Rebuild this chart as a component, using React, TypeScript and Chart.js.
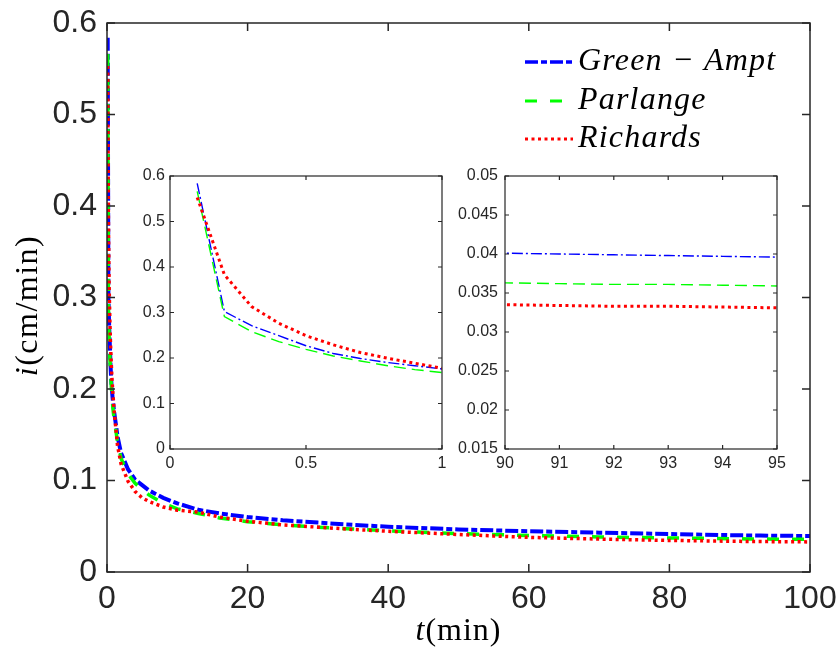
import React, { useEffect, useRef } from "react";
import { Chart, registerables } from "chart.js";

Chart.register(...registerables);

// ---------- data ----------
const TIME = [0.1, 0.2, 0.3, 0.4, 0.5, 0.6, 0.7, 0.8, 0.9, 1, 1.5, 2, 3, 4, 5, 6, 8, 10, 13, 16, 20, 25, 30, 35, 40, 50, 60, 70, 80, 90, 91, 92, 93, 94, 95, 100];
const GREEN_AMPT = [0.584, 0.302, 0.271, 0.249, 0.227, 0.21, 0.199, 0.19, 0.183, 0.176, 0.148, 0.13, 0.112, 0.101, 0.095, 0.089, 0.081, 0.075, 0.068, 0.064, 0.06, 0.0565, 0.054, 0.0515, 0.0495, 0.0465, 0.0445, 0.043, 0.0415, 0.0401, 0.04, 0.0399, 0.0398, 0.0397, 0.0396, 0.0394];
const PARLANGE = [0.566, 0.291, 0.258, 0.236, 0.219, 0.2045, 0.1935, 0.183, 0.1745, 0.168, 0.142, 0.124, 0.107, 0.097, 0.09, 0.084, 0.075, 0.069, 0.064, 0.059, 0.055, 0.0515, 0.049, 0.047, 0.045, 0.042, 0.0398, 0.0383, 0.0372, 0.0363, 0.0362, 0.0361, 0.0361, 0.036, 0.0359, 0.0357];
const RICHARDS = [0.553, 0.383, 0.313, 0.2765, 0.249, 0.229, 0.212, 0.1995, 0.1885, 0.1775, 0.138, 0.118, 0.099, 0.088, 0.081, 0.077, 0.071, 0.0675, 0.0655, 0.06, 0.0555, 0.0515, 0.049, 0.0465, 0.0445, 0.041, 0.0378, 0.036, 0.0345, 0.0335, 0.0334, 0.0333, 0.0333, 0.0332, 0.0331, 0.0329];

const LEGEND_LABELS = ["Green \u2212 Ampt", "Parlange", "Richards"];
const X_TITLE = ["t", "(min)"];
const Y_TITLE = ["i", "(cm/min)"];

const MAIN_X_TICKS = [0, 20, 40, 60, 80, 100];
const MAIN_X_LABELS = ["0", "20", "40", "60", "80", "100"];
const MAIN_Y_TICKS = [0, 0.1, 0.2, 0.3, 0.4, 0.5, 0.6];
const MAIN_Y_LABELS = ["0", "0.1", "0.2", "0.3", "0.4", "0.5", "0.6"];

const ZOOM1_X_TICKS = [0, 0.5, 1];
const ZOOM1_X_LABELS = ["0", "0.5", "1"];
const ZOOM1_Y_TICKS = [0, 0.1, 0.2, 0.3, 0.4, 0.5, 0.6];
const ZOOM1_Y_LABELS = ["0", "0.1", "0.2", "0.3", "0.4", "0.5", "0.6"];

const ZOOM2_X_TICKS = [90, 91, 92, 93, 94, 95];
const ZOOM2_X_LABELS = ["90", "91", "92", "93", "94", "95"];
const ZOOM2_Y_TICKS = [0.015, 0.02, 0.025, 0.03, 0.035, 0.04, 0.045, 0.05];
const ZOOM2_Y_LABELS = ["0.015", "0.02", "0.025", "0.03", "0.035", "0.04", "0.045", "0.05"];

// ---------- styles ----------
const SERIES = [
  { values: GREEN_AMPT, color: "#0000ff", mainDash: [13, 3, 6, 3], mainWidth: 4, insetDash: [11, 3, 2, 3], insetWidth: 1.4, order: 2 },
  { values: PARLANGE, color: "#00ff00", mainDash: [12, 13], mainWidth: 3.5, insetDash: [12, 6], insetWidth: 1.4, order: 1 },
  { values: RICHARDS, color: "#ff0000", mainDash: [3, 3.5], mainWidth: 3.5, insetDash: [3, 3.5], insetWidth: 3, order: 0 },
];

const AXIS_COLOR = "#262626";

function buildDatasets(inset: boolean) {
  return SERIES.map((s, i) => ({
    label: LEGEND_LABELS[i],
    data: TIME.map((t, k) => ({ x: t, y: s.values[k] })),
    borderColor: s.color,
    backgroundColor: s.color,
    borderWidth: inset ? s.insetWidth : s.mainWidth,
    borderDash: inset ? s.insetDash : s.mainDash,
    pointRadius: 0,
    tension: 0,
    fill: false,
    order: s.order,
  }));
}

function axis(vals: number[], labels: string[], min: number, max: number, size: number, padding: number, fit: number, horizontal: boolean) {
  return {
    type: "linear" as const,
    min,
    max,
    grid: { display: false, drawTicks: false },
    border: { display: false },
    afterBuildTicks: (s: any) => {
      s.ticks = vals.map((v) => ({ value: v }));
    },
    afterFit: (s: any) => {
      if (horizontal) s.height = fit;
      else s.width = fit;
      s.paddingLeft = 0;
      s.paddingRight = 0;
      s.paddingTop = 0;
      s.paddingBottom = 0;
    },
    ticks: {
      autoSkip: false,
      maxRotation: 0,
      minRotation: 0,
      padding,
      color: AXIS_COLOR,
      font: { family: "'Liberation Sans', Arial, sans-serif", size },
      callback: (_v: any, i: number) => labels[i],
    },
  };
}

function framePlugin(xVals: number[], yVals: number[], tickLen: number, lw: number, whiteBg: boolean) {
  return {
    id: "frame",
    beforeDraw(chart: any) {
      if (!whiteBg) return;
      const a = chart.chartArea;
      const ctx = chart.ctx;
      ctx.save();
      ctx.fillStyle = "#ffffff";
      ctx.fillRect(a.left, a.top, a.right - a.left, a.bottom - a.top);
      ctx.restore();
    },
    afterDraw(chart: any) {
      const a = chart.chartArea;
      const ctx = chart.ctx;
      const xs = chart.scales.x;
      const ys = chart.scales.y;
      ctx.save();
      ctx.strokeStyle = AXIS_COLOR;
      ctx.lineWidth = lw;
      ctx.setLineDash([]);
      ctx.beginPath();
      for (const v of xVals) {
        const px = xs.getPixelForValue(v);
        ctx.moveTo(px, a.bottom);
        ctx.lineTo(px, a.bottom - tickLen);
        ctx.moveTo(px, a.top);
        ctx.lineTo(px, a.top + tickLen);
      }
      for (const v of yVals) {
        const py = ys.getPixelForValue(v);
        ctx.moveTo(a.left, py);
        ctx.lineTo(a.left + tickLen, py);
        ctx.moveTo(a.right, py);
        ctx.lineTo(a.right - tickLen, py);
      }
      ctx.stroke();
      ctx.strokeRect(a.left, a.top, a.right - a.left, a.bottom - a.top);
      ctx.restore();
    },
  };
}

type Part = { text: string; italic: boolean };

function drawParts(ctx: CanvasRenderingContext2D, parts: Part[], x: number, y: number, size: number, spacing: number, align: "left" | "center") {
  ctx.save();
  (ctx as any).letterSpacing = spacing + "px";
  ctx.textBaseline = "alphabetic";
  ctx.textAlign = "left";
  ctx.fillStyle = "#000000";
  const fonts = parts.map((p) => `${p.italic ? "italic " : ""}${size}px 'Liberation Serif', 'Times New Roman', serif`);
  const widths = parts.map((p, i) => {
    ctx.font = fonts[i];
    return ctx.measureText(p.text).width;
  });
  const total = widths.reduce((s, w) => s + w, 0);
  let cx = align === "center" ? x - total / 2 : x;
  parts.forEach((p, i) => {
    ctx.font = fonts[i];
    ctx.fillText(p.text, cx, y);
    cx += widths[i];
  });
  ctx.restore();
}

const annotationsPlugin = {
  id: "annotations",
  afterDraw(chart: any) {
    const ctx: CanvasRenderingContext2D = chart.ctx;
    const a = chart.chartArea;
    // x title
    drawParts(ctx, [{ text: X_TITLE[0], italic: true }, { text: X_TITLE[1], italic: false }], (a.left + a.right) / 2, 640, 32, 1, "center");
    // y title
    ctx.save();
    ctx.translate(37, (a.top + a.bottom) / 2 + 8);
    ctx.rotate(-Math.PI / 2);
    drawParts(ctx, [{ text: Y_TITLE[0], italic: true }, { text: Y_TITLE[1], italic: false }], 0, 0, 32, 1.5, "center");
    ctx.restore();
    // legend
    const rows = [62, 101, 139];
    SERIES.forEach((s, i) => {
      const y = rows[i];
      ctx.save();
      ctx.strokeStyle = s.color;
      ctx.lineWidth = s.mainWidth - 0.5;
      ctx.setLineDash(s.mainDash);
      ctx.beginPath();
      ctx.moveTo(525, y);
      ctx.lineTo(573, y);
      ctx.stroke();
      ctx.restore();
      drawParts(ctx, [{ text: LEGEND_LABELS[i], italic: true }], 578, y + 8, 32, 1.2, "left");
    });
  },
};

export default function App() {
  const mainRef = useRef<HTMLCanvasElement>(null);
  const z1Ref = useRef<HTMLCanvasElement>(null);
  const z2Ref = useRef<HTMLCanvasElement>(null);

  useEffect(() => {
    const charts: Chart[] = [];
    const common = {
      responsive: false,
      animation: false as const,
      events: [] as any[],
      plugins: { legend: { display: false }, tooltip: { enabled: false }, title: { display: false } },
    };

    charts.push(
      new Chart(mainRef.current as HTMLCanvasElement, {
        type: "line",
        data: { datasets: buildDatasets(false) as any },
        options: {
          ...common,
          layout: { padding: { top: 23, right: 28, left: 0, bottom: 0 } },
          scales: {
            x: axis(MAIN_X_TICKS, MAIN_X_LABELS, 0, 100, 32, 8, 76, true),
            y: axis(MAIN_Y_TICKS, MAIN_Y_LABELS, 0, 0.6, 32, 10, 107, false),
          } as any,
        },
        plugins: [framePlugin(MAIN_X_TICKS, MAIN_Y_TICKS, 8, 1.5, false), annotationsPlugin],
      })
    );

    charts.push(
      new Chart(z1Ref.current as HTMLCanvasElement, {
        type: "line",
        data: { datasets: buildDatasets(true) as any },
        options: {
          ...common,
          layout: { padding: { top: 16, right: 8, left: 0, bottom: 0 } },
          scales: {
            x: axis(ZOOM1_X_TICKS, ZOOM1_X_LABELS, 0, 1, 16, 5, 41, true),
            y: axis(ZOOM1_Y_TICKS, ZOOM1_Y_LABELS, 0, 0.6, 16, 5, 40, false),
          } as any,
        },
        plugins: [framePlugin(ZOOM1_X_TICKS, ZOOM1_Y_TICKS, 4, 1.2, true)],
      })
    );

    charts.push(
      new Chart(z2Ref.current as HTMLCanvasElement, {
        type: "line",
        data: { datasets: buildDatasets(true) as any },
        options: {
          ...common,
          layout: { padding: { top: 16, right: 13, left: 0, bottom: 0 } },
          scales: {
            x: axis(ZOOM2_X_TICKS, ZOOM2_X_LABELS, 90, 95, 16, 5, 41, true),
            y: axis(ZOOM2_Y_TICKS, ZOOM2_Y_LABELS, 0.015, 0.05, 16, 7, 60, false),
          } as any,
        },
        plugins: [framePlugin(ZOOM2_X_TICKS, ZOOM2_Y_TICKS, 4, 1.2, true)],
      })
    );

    return () => {
      charts.forEach((c) => c.destroy());
    };
  }, []);

  return (
    <div style={{ position: "absolute", left: 0, top: 0, width: 838, height: 648, background: "#ffffff" }}>
      <canvas ref={mainRef} width={838} height={648} style={{ position: "absolute", left: 0, top: 0 }} />
      <canvas ref={z1Ref} width={320} height={330} style={{ position: "absolute", left: 130, top: 160 }} />
      <canvas ref={z2Ref} width={345} height={330} style={{ position: "absolute", left: 445, top: 160 }} />
    </div>
  );
}
